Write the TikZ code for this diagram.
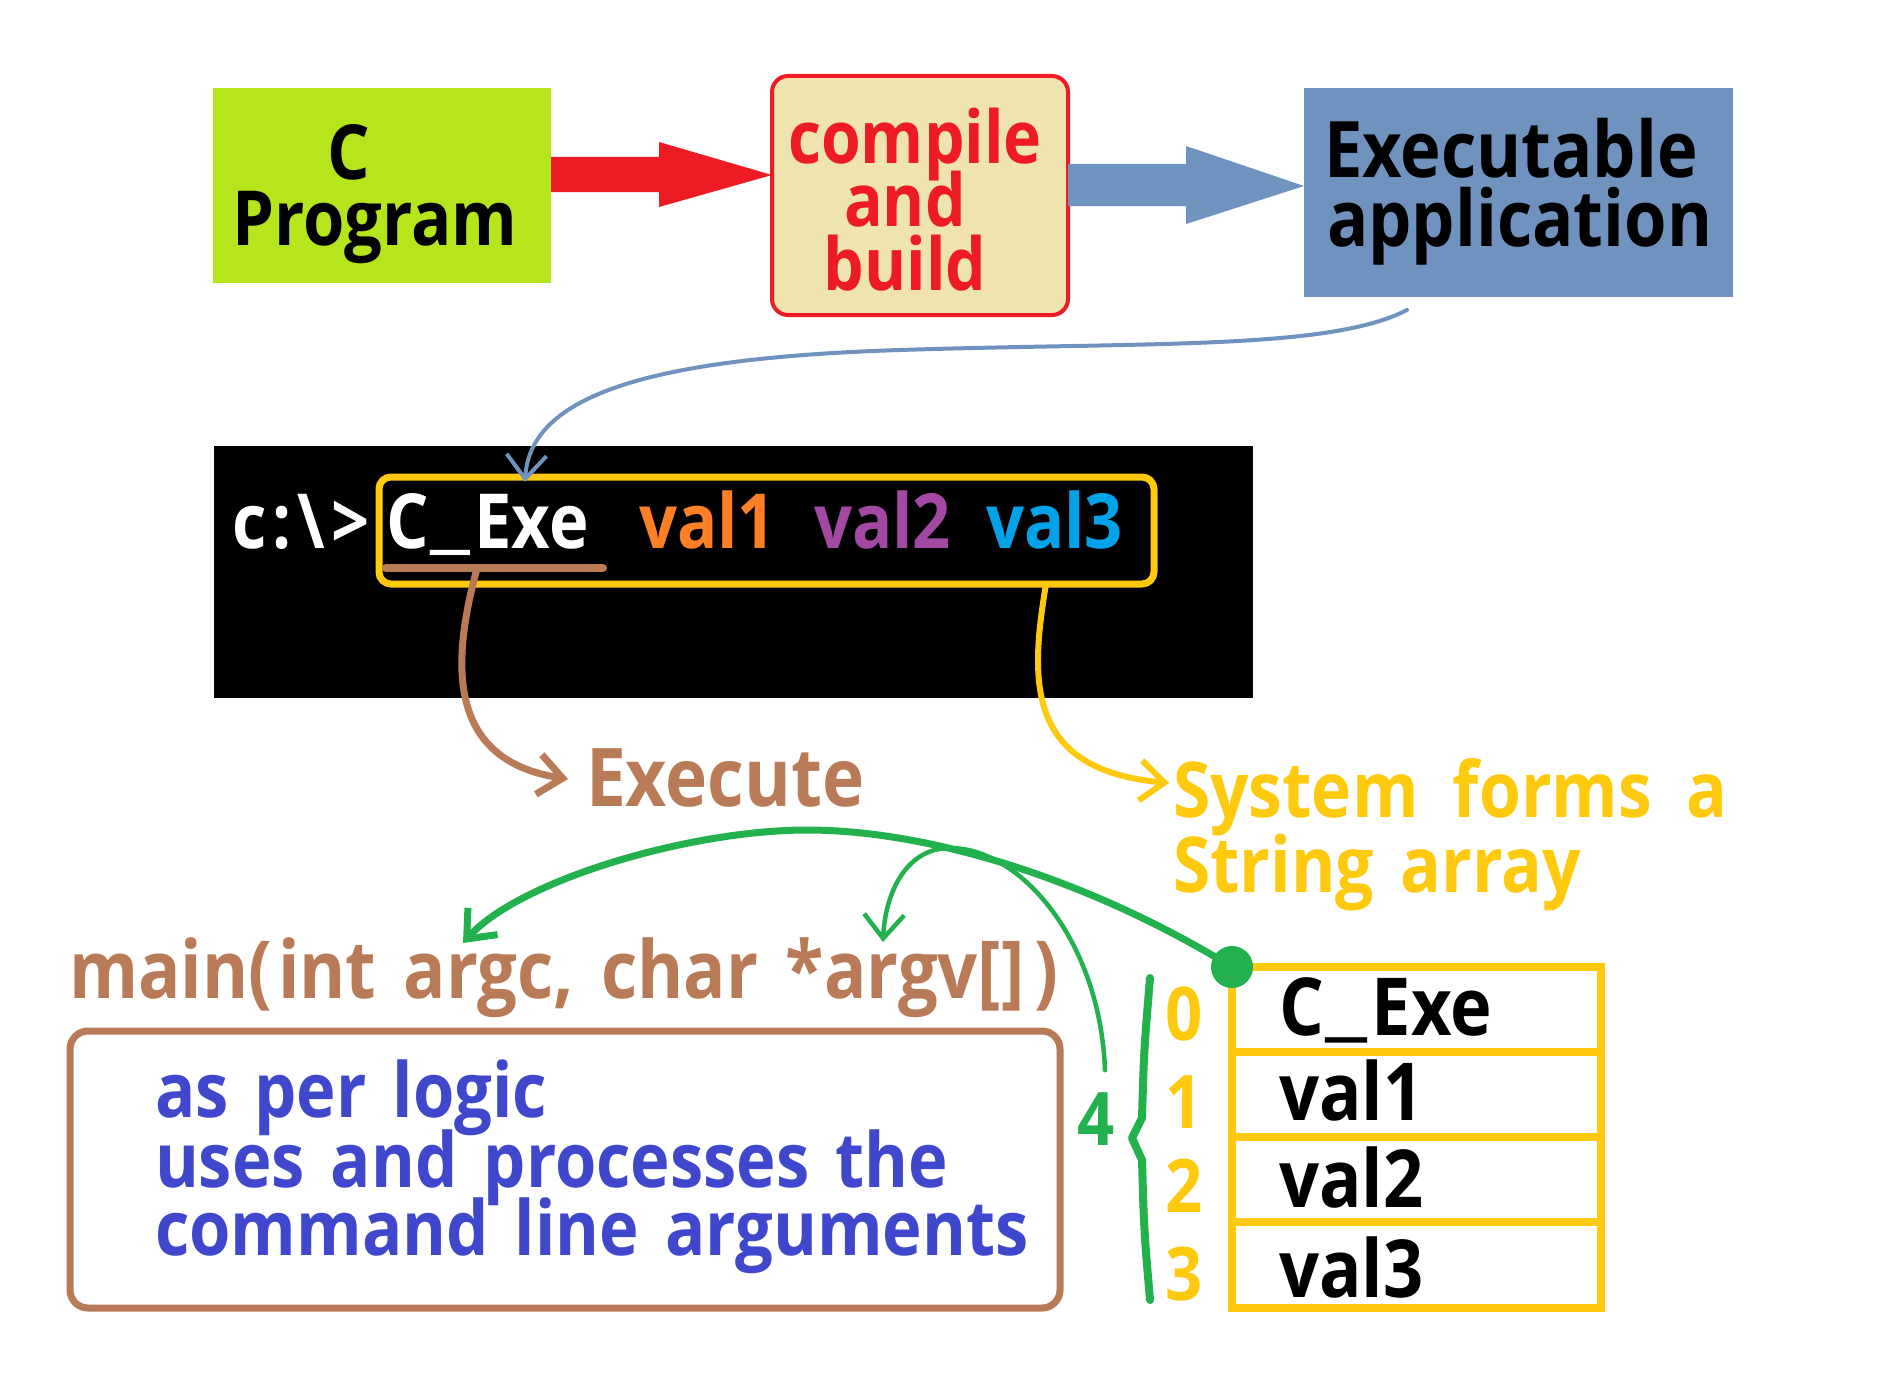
\documentclass[tikz,border=0pt]{standalone}
\usepackage{fontspec}
\setmainfont{Open Sans}[FakeStretch=0.88,WordSpace=1.5]
\usetikzlibrary{arrows.meta,calc}
\definecolor{pgreenbox}{HTML}{B5E61D}
\definecolor{pred}{HTML}{ED1C24}
\definecolor{pbeige}{HTML}{EFE4B0}
\definecolor{psteel}{HTML}{7092BE}
\definecolor{pyellow}{HTML}{FFC90E}
\definecolor{pbrown}{HTML}{B97A57}
\definecolor{pindigo}{HTML}{3F48CC}
\definecolor{pgreen}{HTML}{22B14C}
\definecolor{porange}{HTML}{FF7F27}
\definecolor{ppurple}{HTML}{A349A4}
\definecolor{pcyan}{HTML}{00A2E8}
\newcommand\fsz[1]{\fontsize{#1pt}{#1pt}\selectfont\bfseries}
\newcommand\wideus{\kern2pt\raisebox{5pt}{\scalebox{1.45}[1]{\_}}\kern4pt}
\begin{document}
\begin{tikzpicture}[x=1pt,y=-1pt,
  txt/.style={inner sep=0pt, outer sep=0pt},
  boxn/.style={anchor=north west, inner sep=0pt, outer sep=0pt},
  barb/.style={-{Straight Barb[length=24pt,width=40pt]}, line cap=round},
  cellbox/.style={boxn, draw=pyellow, line width=8pt, minimum width=369pt},
]
\fill[white] (0,0) rectangle (1896,1386);
\useasboundingbox (0,0) rectangle (1896,1386);

% boxes
\node[boxn, fill=pgreenbox, minimum width=338pt, minimum height=195pt] (prog) at (213,88) {};
\node[boxn, draw=pred, line width=4pt, fill=pbeige, rounded corners=16pt, minimum width=296pt, minimum height=239pt] (comp) at (772,76) {};
\node[boxn, fill=psteel, minimum width=429pt, minimum height=209pt] (exec) at (1304,88) {};
\node[boxn, fill=black, minimum width=1039pt, minimum height=252pt] (term) at (214,446) {};
\node[boxn, draw=pyellow, line width=7pt, rounded corners=12pt, minimum width=775pt, minimum height=107pt] (cmdbox) at (379,477) {};
\node[boxn, draw=pbrown, line width=7pt, rounded corners=18pt, minimum width=990pt, minimum height=277pt] (mainbox) at (70,1031) {};
\node[cellbox, minimum height=85pt] (cell0) at (1232,967) {};
\node[cellbox, minimum height=85pt] (cell1) at (1232,1052) {};
\node[cellbox, minimum height=85pt] (cell2) at (1232,1137) {};
\node[cellbox, minimum height=86pt] (cell3) at (1232,1222) {};

% block arrows
\fill[pred] (prog.east |- 0,157) -- (659,157) -- (659,142) -- (comp.west |- 0,175)
  -- (659,207) -- (659,192) -- (prog.east |- 0,192) -- cycle;
\fill[psteel] (comp.east |- 0,164) -- (1186,164) -- (1186,146) -- (exec.west |- 0,186)
  -- (1186,224) -- (1186,206) -- (comp.east |- 0,206) -- cycle;

% texts in boxes
\node[txt, anchor=base] (tC) at (349,179) {\fsz{76}C};
\node[txt, anchor=base] (tProg) at (375,245) {\fsz{76}Program};
\node[txt, anchor=base, text=pred] (tcomp) at (915,164) {\fsz{73}compile};
\node[txt, anchor=base, text=pred] (tand) at (905,226) {\fsz{73}and};
\node[txt, anchor=base, text=pred] (tbuild) at (905,290) {\fsz{73}build};
\node[txt, anchor=base west] (texe1) at (1324,178) {\fsz{78}Executable};
\node[txt, anchor=base west] (texe2) at (1327,246) {\fsz{78}application};

% terminal line
\node[txt, anchor=base west, text=white] (prompt) at (232,548) {\fsz{76}c\kern6pt:\kern6pt\textbackslash\kern6pt>};
\node[txt, anchor=base west, text=white] (cexe) at (386,548) {\fsz{76}C\wideus Exe};
\node[txt, anchor=base west, text=porange] (v1) at (639,548) {\fsz{76}val1};
\node[txt, anchor=base west, text=ppurple] (v2) at (814,548) {\fsz{76}val2};
\node[txt, anchor=base west, text=pcyan] (v3) at (986,548) {\fsz{76}val3};
\coordinate (ul1) at (386,568);
\coordinate (ul2) at (603,568);
\draw[pbrown, line width=8pt, line cap=round] (ul1) -- (ul2);

% labels
\node[txt, anchor=base west, text=pbrown] (exe) at (586,806) {\fsz{81}Execute};
\node[txt, anchor=base west, text=pyellow] (sys1) at (1173,817) {\fsz{77}System\kern8pt{} forms\kern8pt{} a};
\node[txt, anchor=base west, text=pyellow] (sys2) at (1173,892) {\fsz{77}String array};
\node[txt, anchor=base west, text=pbrown] (maintxt) at (69,998) {\fsz{80}main(\kern6pt int argc, char *argv[]\kern10pt)};
\node[txt, anchor=base west, text=pindigo] (l1) at (155,1117) {\fsz{76}as per logic};
\node[txt, anchor=base west, text=pindigo] (l2) at (155,1187) {\fsz{76}uses and processes the};
\node[txt, anchor=base west, text=pindigo] (l3) at (155,1255) {\fsz{76}command line arguments};

% array
\node[txt, anchor=base, text=pgreen] (four) at (1096,1145) {\fsz{74}4};
\node[txt, anchor=base, text=pyellow] (i0) at (1184,1040) {\fsz{74}0};
\node[txt, anchor=base, text=pyellow] (i1) at (1184,1128) {\fsz{74}1};
\node[txt, anchor=base, text=pyellow] (i2) at (1184,1212) {\fsz{74}2};
\node[txt, anchor=base, text=pyellow] (i3) at (1184,1300) {\fsz{74}3};
\node[txt, anchor=base west] (c0) at (1279,1035) {\fsz{80}C\wideus Exe};
\node[txt, anchor=base west] (c1) at (1279,1120) {\fsz{80}val1};
\node[txt, anchor=base west] (c2) at (1279,1207) {\fsz{80}val2};
\node[txt, anchor=base west] (c3) at (1279,1297) {\fsz{80}val3};

% connectors
\coordinate (bstart) at (1407,310);
\draw[psteel, line width=4pt, barb] (bstart) .. controls (1330,350) and (1150,342) .. (900,350)
  .. controls (650,358) and (530,395) .. ($(cmdbox.north west)+(146,5)$);
\draw[pbrown, line width=7pt, barb] ($(ul1)!0.42!(ul2)$) .. controls (452,660) and (445,760) .. ($(exe.base west)+(-18,-27)$);
\draw[pyellow, line width=6pt, barb] ($(cmdbox.south east)+(-108,0)$) .. controls (1030,680) and (1025,770) .. ($(sys1.base west)+(-4,-34)$);
\coordinate (argcpt) at (463,943);
\coordinate (argvpt) at (883,942);
\draw[pgreen, line width=7pt, barb] (cell0.north west) .. controls (1090,880) and (930,830) .. (807,830)
  .. controls (690,830) and (520,880) .. (argcpt);
\draw[pgreen, line width=4.5pt, barb] ($(four.north)+(9,-22)$) .. controls (1100,940) and (1020,848) .. (950,848)
  .. controls (905,848) and (885,895) .. (argvpt);
\draw[pgreen, line width=8pt, line cap=round, line join=round]
  (1150,978) .. controls (1144,1050) .. (1142,1118) -- (1132,1138) -- (1142,1160)
  .. controls (1144,1230) .. (1150,1300);
\fill[pgreen] (cell0.north west) circle (21pt);
\end{tikzpicture}
\end{document}
